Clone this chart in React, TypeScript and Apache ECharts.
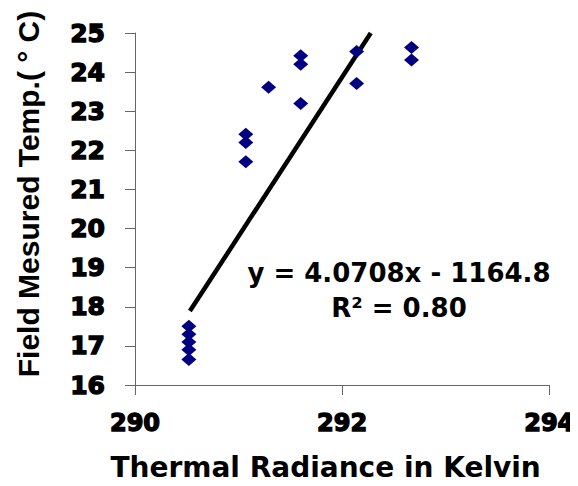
import React, { useEffect, useRef } from "react";
import * as echarts from "echarts";

const radianceK = [
  290.52, 290.52, 290.52, 290.52, 290.52,
  291.07, 291.07, 291.07,
  291.29,
  291.6, 291.6, 291.6,
  292.14, 292.14,
  292.67, 292.67,
];
const fieldTemp = [
  17.5, 17.3, 17.1, 16.9, 16.65,
  22.41, 22.2, 21.71,
  23.61,
  24.42, 24.2, 23.2,
  24.53, 23.71,
  24.63, 24.31,
];
const xTicks = [290, 292, 294];
const yTicks = [16, 17, 18, 19, 20, 21, 22, 23, 24, 25];
const slope = 4.0708;
const intercept = -1164.8;
const rSquared = "0.80";
const trendStartX = 290.53;
const trendEndY = 25;

export default function App() {
  const ref = useRef<HTMLDivElement>(null);
  useEffect(() => {
    if (!ref.current) return;
    const chart = echarts.init(ref.current, null, { renderer: "svg" });
    const pts = radianceK.map((x, i) => [x, fieldTemp[i]]);
    const trendEndX = (trendEndY - intercept) / slope;
    const trend = [
      [trendStartX, slope * trendStartX + intercept],
      [trendEndX, slope * trendEndX + intercept],
    ];
    const hFont = "DejaVu Sans";
    const tickLabel = {
      fontFamily: hFont,
      fontWeight: "bold",
      fontSize: 25,
      color: "#000",
      textBorderColor: "#000",
      textBorderWidth: 1.4,
    };
    chart.setOption({
      animation: false,
      backgroundColor: "#ffffff",
      grid: { left: 135, right: 28, top: 33, bottom: 98, containLabel: false },
      xAxis: {
        type: "value",
        min: xTicks[0],
        max: xTicks[xTicks.length - 1],
        interval: 2,
        name: "Thermal Radiance in Kelvin",
        nameLocation: "middle",
        nameGap: 68,
        nameTextStyle: {
          fontFamily: hFont,
          fontWeight: "bold",
          fontSize: 28,
          color: "#000",
          padding: [0, 33, 0, 0],
        },
        axisLine: { show: true, onZero: false, lineStyle: { color: "#666", width: 1 } },
        axisTick: { show: true, inside: false, length: 10, lineStyle: { color: "#666" } },
        splitLine: { show: false },
        axisLabel: { ...tickLabel, fontSize: 24, margin: 26 },
      },
      yAxis: {
        type: "value",
        min: yTicks[0],
        max: yTicks[yTicks.length - 1],
        interval: 1,
        name: "Field Mesured Temp.( ° C)",
        nameLocation: "middle",
        nameRotate: 90,
        nameGap: 92,
        nameTextStyle: {
          fontFamily: "Liberation Sans",
          fontWeight: "bold",
          fontSize: 30,
          color: "#000",
          padding: [0, 0, 0, 30],
        },
        axisLine: { show: true, onZero: false, lineStyle: { color: "#666", width: 1 } },
        axisTick: { show: true, inside: false, length: 10, lineStyle: { color: "#666" } },
        splitLine: { show: false },
        axisLabel: { ...tickLabel, margin: 30 },
      },
      series: [
        {
          type: "line",
          data: trend,
          showSymbol: false,
          symbol: "none",
          lineStyle: { color: "#000", width: 4.5 },
          z: 3,
          clip: true,
        },
        {
          type: "scatter",
          data: pts,
          symbol: "diamond",
          symbolSize: [15, 13],
          itemStyle: { color: "#000080", opacity: 1 },
          z: 4,
        },
      ],
      graphic: [
        {
          type: "text",
          x: 399,
          y: 273,
          style: {
            text: `y = ${slope.toFixed(4)}x - ${Math.abs(intercept).toFixed(1)}`,
            fontFamily: hFont,
            fontWeight: "bold",
            fontSize: 26,
            fill: "#000",
            align: "center",
            verticalAlign: "middle",
          },
        },
        {
          type: "text",
          x: 399,
          y: 308,
          style: {
            text: `R² = ${rSquared}`,
            fontFamily: hFont,
            fontWeight: "bold",
            fontSize: 26,
            fill: "#000",
            align: "center",
            verticalAlign: "middle",
          },
        },
      ],
    });
    return () => chart.dispose();
  }, []);
  return <div ref={ref} style={{ width: 578, height: 486, marginLeft: -8, marginTop: -8 }} />;
}
